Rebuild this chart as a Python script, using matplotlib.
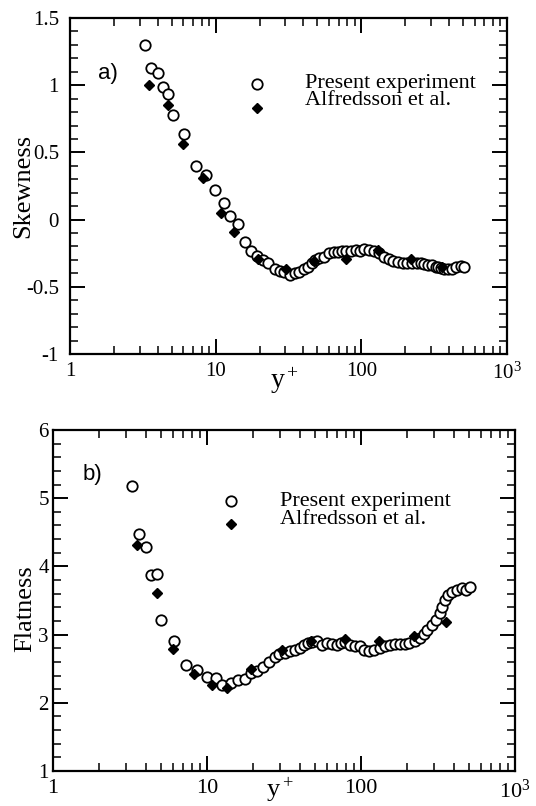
import matplotlib
matplotlib.use("Agg")
import matplotlib.pyplot as plt
from matplotlib.ticker import MultipleLocator, LogLocator, NullFormatter

plt.rcParams['font.family'] = ['Liberation Serif', 'DejaVu Serif']
plt.rcParams['mathtext.fontset'] = 'stix'

# y+ positions of the present measurements (shared by both moments)
yp = [3.25, 3.6, 4.0, 4.32, 4.7, 5.06, 6.1, 7.35, 8.65, 9.95,
      11.4, 12.6, 14.3, 15.9, 17.6, 19.2, 21.0, 23.0, 25.4, 27.6,
      29.5, 32.2, 34.8, 37.3, 40.2, 42.9, 45.5, 48.3, 51.5, 55.6,
      59.9, 64.5, 69.5, 73.8, 78.5, 84.8, 91.4, 98.6, 104.5, 112.7,
      121.4, 132.8, 143, 154, 166, 179, 193, 206, 224, 242,
      257, 269, 287, 307, 326, 334, 351, 369, 392, 418,
      450, 480, 510]

skew = [1.30, 1.125, 1.09, 0.99, 0.935, 0.78, 0.635, 0.40, 0.33, 0.22,
        0.125, 0.03, -0.035, -0.165, -0.235, -0.27, -0.30, -0.325, -0.37, -0.38,
        -0.39, -0.41, -0.40, -0.39, -0.37, -0.35, -0.325, -0.30, -0.285, -0.275,
        -0.25, -0.24, -0.24, -0.235, -0.235, -0.235, -0.225, -0.23, -0.22, -0.225,
        -0.23, -0.245, -0.28, -0.295, -0.305, -0.315, -0.32, -0.32, -0.32, -0.32,
        -0.325, -0.33, -0.335, -0.34, -0.35, -0.35, -0.36, -0.365, -0.37, -0.365,
        -0.355, -0.345, -0.355]

flat = [5.18, 4.47, 4.29, 3.87, 3.89, 3.22, 2.90, 2.56, 2.48, 2.38,
        2.36, 2.26, 2.29, 2.33, 2.35, 2.44, 2.46, 2.52, 2.60, 2.67,
        2.71, 2.73, 2.76, 2.78, 2.81, 2.85, 2.87, 2.89, 2.90, 2.85,
        2.88, 2.86, 2.85, 2.87, 2.89, 2.85, 2.83, 2.83, 2.77, 2.76,
        2.78, 2.80, 2.83, 2.85, 2.86, 2.86, 2.86, 2.87, 2.90, 2.95,
        3.01, 3.07, 3.14, 3.21, 3.31, 3.41, 3.51, 3.58, 3.63, 3.66,
        3.68, 3.65, 3.70]

# Alfredsson et al. reference data
yp_alf = [3.49, 4.72, 6.0, 8.2, 10.8, 13.4, 19.4, 30.6, 47.5, 78.5, 130, 221, 356]
skew_alf = [1.0, 0.85, 0.56, 0.307, 0.05, -0.09, -0.29, -0.368, -0.306, -0.295, -0.226, -0.293, -0.35]
flat_alf = [4.32, 3.61, 2.79, 2.42, 2.26, 2.21, 2.50, 2.77, 2.90, 2.94, 2.90, 2.98, 3.19]

xticks = [1, 10, 100, 1000]
xticklabels = ['1', '10', '100', r'$\mathregular{10^3}$']
labels = ['Present experiment', 'Alfredsson et al.']

W, H = 536, 806
fig = plt.figure(figsize=(W / 100, H / 100), dpi=100)
ax1 = fig.add_axes([70 / W, 1 - 354 / H, 437 / W, 336 / H])
ax2 = fig.add_axes([53 / W, 1 - 771 / H, 462 / W, 341 / H])

circ = dict(marker='o', ls='none', mfc='white', mec='black', ms=7.5, mew=1.3)
diam = dict(marker='D', ls='none', color='black', ms=5.5)


def style(ax, ypad, xsize):
    ax.set_xscale('log')
    ax.set_xlim(1, 1000)
    ax.set_xticks(xticks)
    ax.set_xticklabels(xticklabels)
    ax.xaxis.set_minor_locator(LogLocator(base=10, subs=range(2, 10)))
    ax.xaxis.set_minor_formatter(NullFormatter())
    ax.tick_params(which='both', direction='in', top=True, right=True)
    ax.tick_params(which='major', length=11, width=1.4)
    ax.tick_params(which='minor', length=6, width=1.1)
    ax.tick_params(axis='y', labelsize=15, pad=ypad)
    ax.tick_params(axis='x', labelsize=xsize, pad=6)
    for s in ax.spines.values():
        s.set_linewidth(1.6)


def draw(ax, y, y_alf):
    ax.plot(yp, y, zorder=3, **circ)
    ax.plot(yp_alf, y_alf, zorder=4, **diam)


def key(ax, mx, my, tx, ty):
    # hand-placed key: markers on the left, labels further right
    ax.plot([mx], [my[0]], transform=ax.transAxes, clip_on=False, **circ)
    ax.plot([mx], [my[1]], transform=ax.transAxes, clip_on=False, **diam)
    for t, yy in zip(labels, ty):
        ax.text(tx, yy, t, transform=ax.transAxes, fontsize=16,
                ha='left', va='baseline')


# a) skewness
draw(ax1, skew, skew_alf)
style(ax1, 8, 15)
ax1.set_ylim(-1, 1.5)
ax1.set_yticks([-1, -0.5, 0, 0.5, 1, 1.5])
ax1.set_yticklabels(['-1', '-0.5', '0', '0.5', '1', '1.5'])
ax1.yaxis.set_minor_locator(MultipleLocator(0.1))
ax1.set_ylabel('Skewness', fontsize=19)
ax1.yaxis.set_label_coords(-0.081, 0.5)
ax1.set_xlabel(r'$\mathregular{y^+}$', fontsize=20)
ax1.xaxis.set_label_coords(0.49, -0.035)
ax1.text(0.065, 0.835, 'a)', transform=ax1.transAxes, fontsize=16,
         family='Liberation Sans', ha='left', va='center')
key(ax1, 0.428, (0.804, 0.732), 0.538, (0.792, 0.740))

# b) flatness
draw(ax2, flat, flat_alf)
style(ax2, 3, 16)
ax2.set_ylim(1, 6)
ax2.set_yticks([1, 2, 3, 4, 5, 6])
ax2.yaxis.set_minor_locator(MultipleLocator(0.2))
ax2.set_ylabel('Flatness', fontsize=19)
ax2.yaxis.set_label_coords(-0.036, 0.475)
ax2.set_xlabel(r'$\mathregular{y^+}$', fontsize=19)
ax2.xaxis.set_label_coords(0.49, -0.014)
ax2.text(0.065, 0.87, 'b)', transform=ax2.transAxes, fontsize=16,
         family='Liberation Sans', ha='left', va='center')
key(ax2, 0.385, (0.792, 0.723), 0.491, (0.776, 0.725))

fig.savefig('out.png', dpi=100)
